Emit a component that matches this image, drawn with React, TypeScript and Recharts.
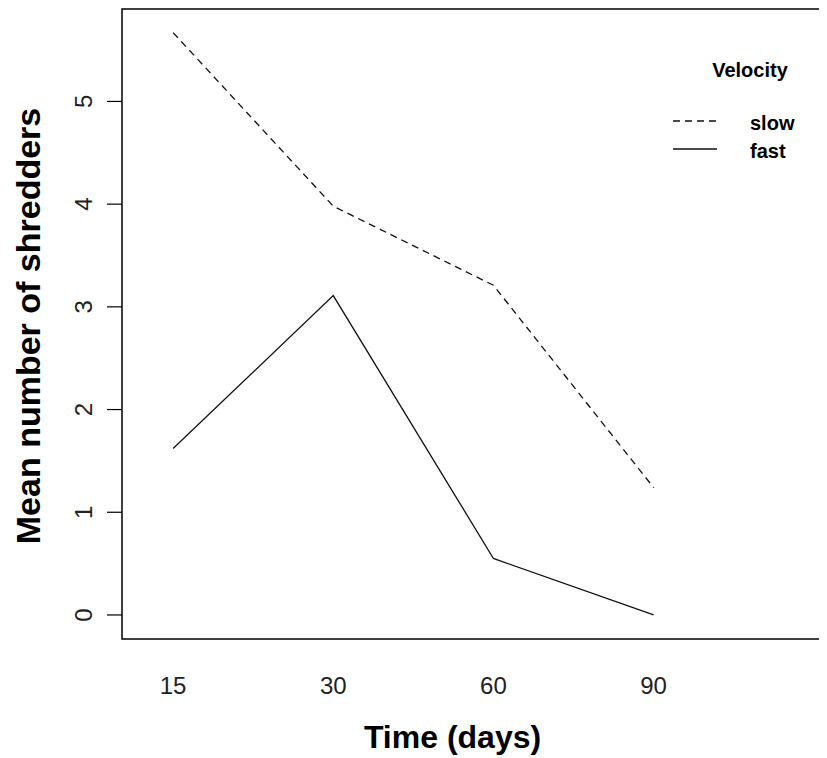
import React from "react";
import { LineChart, Line, XAxis, YAxis, ReferenceArea, Legend } from "recharts";

const days = ["15", "30", "60", "90"];
const slow = [5.67, 3.98, 3.21, 1.24];
const fast = [1.62, 3.11, 0.55, 0.0];
const yTicks = [0, 1, 2, 3, 4, 5];
const xIndex = [1, 2, 3, 4];
const seriesNames = ["slow", "fast"];
const legendTitle = "Velocity";
const xTitle = "Time (days)";
const yTitle = "Mean number of shredders";

const data = days.map((d, i) => ({ idx: xIndex[i], day: d, slow: slow[i], fast: fast[i] }));

const X_DOMAIN: [number, number] = [0.681, 5.07];
const Y_DOMAIN: [number, number] = [-0.234, 5.9];
const FONT = "'Liberation Sans', Arial, Helvetica, sans-serif";

const XTick = (props: any) => {
  const { x, y, payload } = props;
  return (
    <text x={x} y={y + 55} textAnchor="middle" fontFamily={FONT} fontSize={24} fill="#222">
      {days[xIndex.indexOf(payload.value)]}
    </text>
  );
};

const YTick = (props: any) => {
  const { x, y, payload } = props;
  const cx = x - 24;
  return (
    <text
      x={cx}
      y={y}
      dy="0.36em"
      textAnchor="middle"
      transform={`rotate(-90, ${cx}, ${y})`}
      fontFamily={FONT}
      fontSize={24}
      fill="#222"
    >
      {payload.value}
    </text>
  );
};

const XTitle = (props: any) => {
  const vb = props.viewBox || {};
  const cx = vb.x + vb.width / 2 - 21;
  return (
    <text x={cx} y={vb.y + 109} textAnchor="middle" fontFamily={FONT} fontSize={32} fontWeight="bold" fill="#000">
      {xTitle}
    </text>
  );
};

const YTitle = (props: any) => {
  const vb = props.viewBox || {};
  const cy = vb.y + vb.height / 2 + 2;
  const bx = 32;
  return (
    <text
      x={bx}
      y={cy}
      textAnchor="middle"
      transform={`rotate(-90, ${bx}, ${cy})`}
      fontFamily={FONT}
      fontSize={34}
      fontWeight="bold"
      fill="#000"
    >
      {yTitle}
    </text>
  );
};

const LegendContent = (props: any) => {
  const payload = [...(props.payload || [])].sort(
    (a: any, b: any) => seriesNames.indexOf(a.value) - seriesNames.indexOf(b.value)
  );
  return (
    <svg width={160} height={120} style={{ display: "block" }}>
      <text x={90} y={27} textAnchor="middle" fontFamily={FONT} fontSize={20} fontWeight="bold" fill="#000">
        {legendTitle}
      </text>
      {payload.map((entry: any, i: number) => {
        const ly = 71 + i * 28;
        const dash = entry.payload && entry.payload.strokeDasharray;
        return (
          <g key={i}>
            <line x1={13} x2={57} y1={ly} y2={ly} stroke="#111" strokeWidth={1.3} strokeDasharray={dash} />
            <text x={90} y={ly + 9} fontFamily={FONT} fontSize={20} fontWeight="bold" fill="#000">
              {entry.value}
            </text>
          </g>
        );
      })}
    </svg>
  );
};

export default function App() {
  return (
    <div style={{ width: 819, height: 750, background: "#fff" }}>
      <LineChart width={819} height={750} data={data} margin={{ top: 1, right: 2, bottom: 0, left: 0 }}>
        <XAxis
          dataKey="idx"
          type="number"
          domain={X_DOMAIN}
          ticks={xIndex}
          allowDataOverflow
          axisLine={false}
          tickLine={false}
          tickSize={0}
          tickMargin={0}
          height={119}
          tick={<XTick />}
          interval={0}
          label={<XTitle />}
        />
        <YAxis
          type="number"
          domain={Y_DOMAIN}
          ticks={yTicks}
          allowDataOverflow
          axisLine={false}
          tickLine={{ stroke: "#000", strokeWidth: 1.2 }}
          tickSize={15}
          tickMargin={0}
          width={114}
          tick={<YTick />}
          interval={0}
          label={<YTitle />}
        />
        <ReferenceArea
          x1={X_DOMAIN[0]}
          x2={X_DOMAIN[1]}
          y1={Y_DOMAIN[0]}
          y2={Y_DOMAIN[1]}
          fill="none"
          fillOpacity={0}
          stroke="#000"
          strokeWidth={1.5}
          ifOverflow="visible"
        />
        <Legend
          layout="vertical"
          align="center"
          verticalAlign="middle"
          content={<LegendContent />}
          wrapperStyle={{ position: "absolute", left: 652, top: 42, width: 160, height: 120 }}
        />
        <Line
          name={seriesNames[0]}
          dataKey="slow"
          type="linear"
          stroke="#111"
          strokeWidth={1.3}
          strokeDasharray="7 5"
          dot={false}
          activeDot={false}
          isAnimationActive={false}
        />
        <Line
          name={seriesNames[1]}
          dataKey="fast"
          type="linear"
          stroke="#111"
          strokeWidth={1.3}
          dot={false}
          activeDot={false}
          isAnimationActive={false}
        />
      </LineChart>
    </div>
  );
}
